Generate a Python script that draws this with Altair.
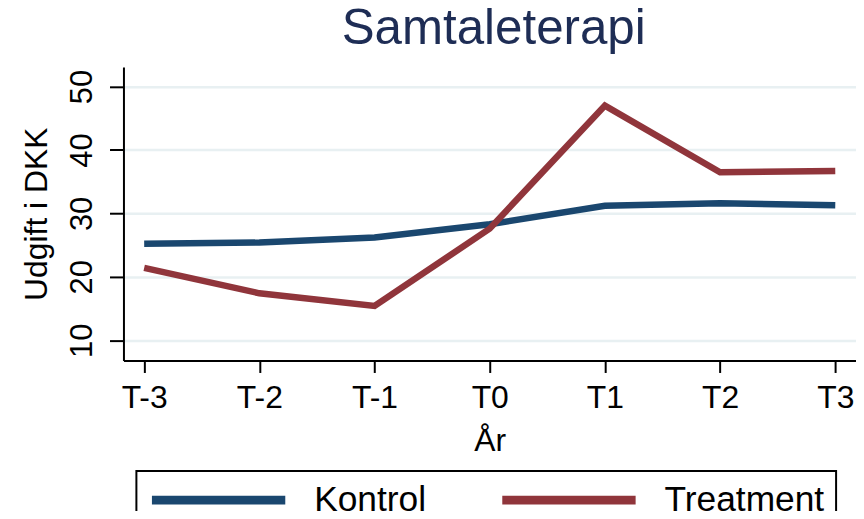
import altair as alt
import pandas as pd

years = ["T-3", "T-2", "T-1", "T0", "T1", "T2", "T3"]
kontrol = [25.2, 25.4, 26.2, 28.3, 31.2, 31.6, 31.3]
treatment = [21.4, 17.4, 15.4, 27.6, 47.0, 36.5, 36.7]
groups = ["Kontrol", "Treatment"]
colors = ["#1a476f", "#90353b"]
y_ticks = [10, 20, 30, 40, 50]

rows = []
for g, vals in zip(groups, [kontrol, treatment]):
    for yr, v in zip(years, vals):
        rows.append({"year": yr, "value": v, "group": g})
df = pd.DataFrame(rows)

FONT = "Liberation Sans"

chart = alt.Chart(df).mark_line(strokeWidth=6.5, strokeCap="butt", strokeJoin="miter").encode(
    x=alt.X("year:O", sort=years,
            scale=alt.Scale(type="point", padding=0.18),
            axis=alt.Axis(title="År", labelAngle=0, labelFontSize=32, titleFontSize=32,
                          labelFont=FONT, titleFont=FONT, labelColor="black", titleColor="black",
                          tickSize=12, tickWidth=2, tickColor="black", domainColor="black",
                          domainWidth=2, labelPadding=10, labelBaseline="top",
                          titleFontWeight="normal", titleBaseline="alphabetic", titleY=90,
                          grid=False)),
    y=alt.Y("value:Q",
            scale=alt.Scale(domain=[6.8, 53.1], nice=False, zero=False),
            axis=alt.Axis(title="Udgift i DKK", values=y_ticks, labelAngle=270,
                          labelAlign="center", labelBaseline="alphabetic",
                          labelFontSize=31, titleFontSize=32, labelFont=FONT, titleFont=FONT,
                          labelColor="black", titleColor="black",
                          tickSize=14, tickWidth=2, tickColor="black", domainColor="black",
                          domainWidth=2, labelPadding=18, titleFontWeight="normal",
                          titleAngle=270, titleBaseline="alphabetic", titleAlign="center",
                          titleX=-77, titleY=147.5,
                          grid=True, gridColor="#e8f0f2", gridWidth=2.5)),
    color=alt.Color("group:N", scale=alt.Scale(domain=groups, range=colors),
                    legend=alt.Legend(title=None, orient="none", legendX=13, legendY=406,
                                      direction="horizontal", columns=2,
                                      symbolType="M-5,0L5,0", symbolSize=718,
                                      symbolStrokeWidth=9, symbolOffset=53.6,
                                      labelOffset=78, columnPadding=57,
                                      labelFontSize=35.5, labelFont=FONT, labelColor="black",
                                      strokeColor="black", padding=11, cornerRadius=0,
                                      labelLimit=400)),
).properties(
    width=736,
    height=295,
    title=alt.TitleParams("Samtaleterapi", fontSize=49.5, font=FONT, color="#1e2d55",
                          fontWeight="normal", anchor="middle", baseline="alphabetic",
                          offset=16, dy=42, dx=4),
    padding={"left": 116, "top": 58, "right": 0, "bottom": 150},
    autosize=alt.AutoSizeParams(type="none"),
).configure_view(stroke=None).configure_legend(strokeWidth=2)

chart.save("out.html", embed_options={"renderer": "svg", "actions": False})
